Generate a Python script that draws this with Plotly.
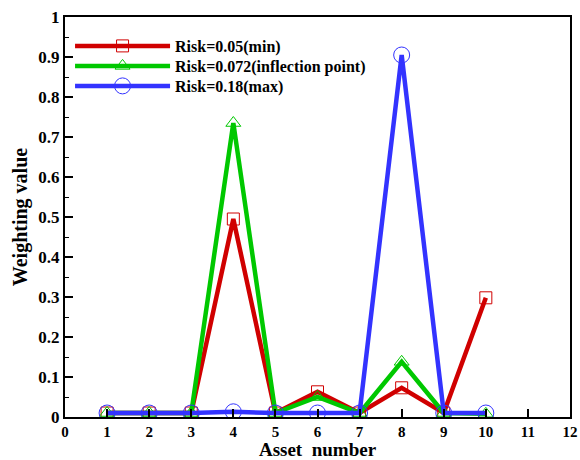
import plotly.graph_objects as go

assets = [1, 2, 3, 4, 5, 6, 7, 8, 9, 10]
risk_min = [0.01, 0.01, 0.01, 0.495, 0.01, 0.063, 0.01, 0.073, 0.01, 0.298]
risk_infl = [0.01, 0.01, 0.01, 0.735, 0.01, 0.05, 0.01, 0.138, 0.01, 0.008]
risk_max = [0.01, 0.01, 0.01, 0.013, 0.01, 0.01, 0.01, 0.905, 0.01, 0.01]
names = ["Risk=0.05(min)", "Risk=0.072(inflection point)", "Risk=0.18(max)"]
x_ticks = list(range(0, 13))
y_ticks = [0, 0.1, 0.2, 0.3, 0.4, 0.5, 0.6, 0.7, 0.8, 0.9, 1]

font = "Liberation Serif"
series = [
    (risk_min, names[0], "#D00000", "square-open", 12, "legend", 0.9275),
    (risk_infl, names[1], "#00C800", "triangle-up-open", 13, "legend2", 0.8775),
    (risk_max, names[2], "#3333FF", "circle-open", 16, "legend3", 0.8275),
]

fig = go.Figure()
legends = {}
for vals, name, color, sym, size, leg, ly in series:
    fig.add_trace(go.Scatter(
        x=assets, y=vals, name=name, mode="lines+markers", legend=leg,
        line=dict(color=color, width=4.5),
        marker=dict(symbol=sym, size=size, color=color, line=dict(width=1, color=color)),
    ))
    legends[leg] = dict(
        x=0.01, y=ly, xanchor="left", yanchor="middle",
        bgcolor="rgba(0,0,0,0)", borderwidth=0,
        font=dict(family=font, size=16, color="black", weight="bold"),
        itemwidth=95,
    )

fig.update_layout(
    width=580, height=460,
    margin=dict(l=65, r=10, t=17, b=43, autoexpand=False),
    paper_bgcolor="white", plot_bgcolor="white",
    font=dict(family=font, size=15, color="black"),
    showlegend=True,
    **legends,
)
fig.update_xaxes(
    range=[0, 12], tickvals=x_ticks, ticktext=[str(v) for v in x_ticks],
    showgrid=False, zeroline=False, showline=True, linecolor="black", linewidth=2, mirror=True,
    ticks="inside", ticklen=8, tickwidth=2, tickcolor="black", automargin=False,
    tickfont=dict(family=font, size=15, weight="bold"),
    title=dict(text="Asset  number", font=dict(family=font, size=19, weight="bold"), standoff=6),
)
fig.update_yaxes(
    range=[0, 1], tickvals=y_ticks, ticktext=[("%g" % v) for v in y_ticks],
    showgrid=False, zeroline=False, showline=True, linecolor="black", linewidth=2, mirror=True,
    ticks="inside", ticklen=8, tickwidth=2, tickcolor="black", automargin=False,
    minor=dict(dtick=0.05, ticks="inside", ticklen=4, tickwidth=1, tickcolor="black", showgrid=False),
    tickfont=dict(family=font, size=17, weight="bold"),
    title=dict(text="Weighting value", font=dict(family=font, size=20, weight="bold"), standoff=5),
)

fig.write_html("out.html")
